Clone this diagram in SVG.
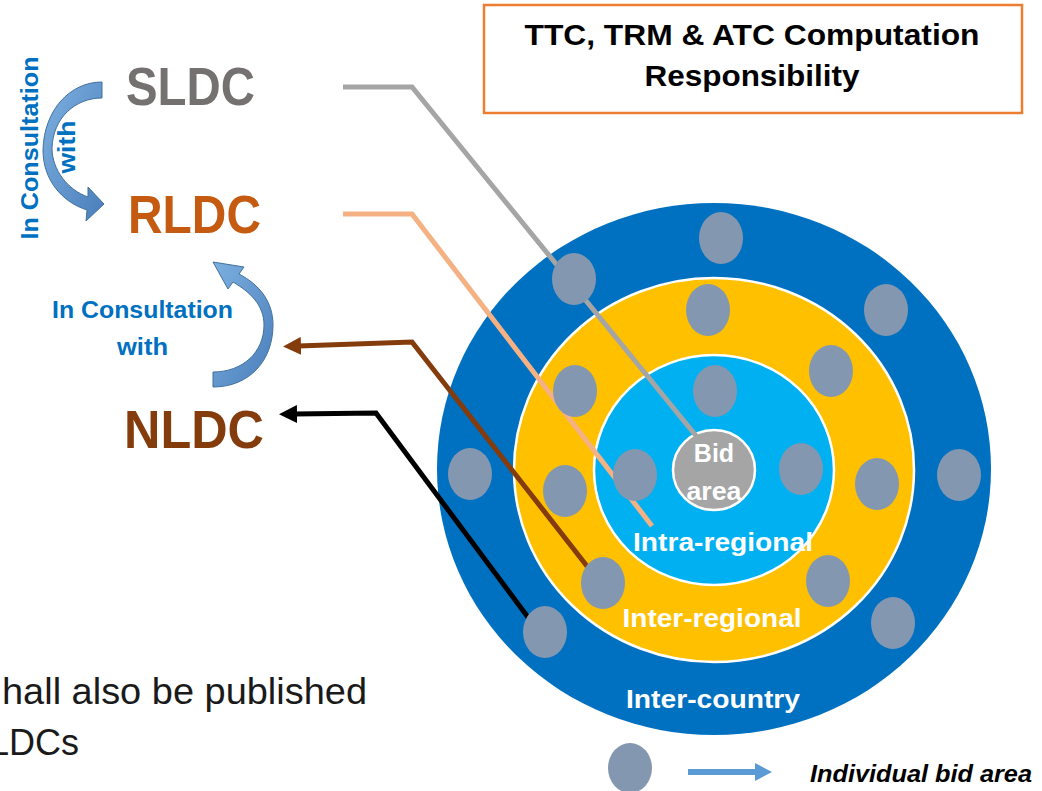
<svg xmlns="http://www.w3.org/2000/svg" width="1042" height="791" viewBox="0 0 1042 791">
<defs>
<style>
.lbl{font-family:"Liberation Sans",Arial,sans-serif;font-weight:bold}
.big{font-size:54px}
.ring{fill:#FFFFFF;font-size:25px}
.blue{fill:#0070C0;font-size:23px}
.bid{fill:#8497B0}
.conn{fill:none;stroke-width:5;stroke-linejoin:miter}
.curv{fill:url(#cg);stroke:#41719C;stroke-width:1}
</style>
<linearGradient id="cg" x1="0" y1="0" x2="1" y2="1">
<stop offset="0" stop-color="#7DB0E0"/>
<stop offset="1" stop-color="#4A7EBB"/>
</linearGradient>
<marker id="ahBrown" markerUnits="userSpaceOnUse" markerWidth="18" markerHeight="18" viewBox="0 0 18 18" refX="3" refY="9" orient="auto-start-reverse">
<path d="M0,0 L18,9 L0,18 z" fill="#843C0C"/>
</marker>
<marker id="ahBlack" markerUnits="userSpaceOnUse" markerWidth="18" markerHeight="18" viewBox="0 0 18 18" refX="3" refY="9" orient="auto-start-reverse">
<path d="M0,0 L18,9 L0,18 z" fill="#000000"/>
</marker>
</defs>
<rect width="1042" height="791" fill="#FFFFFF"/>

<g id="title">
<rect x="484" y="5" width="538" height="108" fill="#FFFFFF" stroke="#ED7D31" stroke-width="2.5"/>
<text class="lbl" x="752" y="45" font-size="29" text-anchor="middle" textLength="455" lengthAdjust="spacingAndGlyphs">TTC, TRM &amp; ATC Computation</text>
<text class="lbl" x="752" y="86" font-size="29" text-anchor="middle" textLength="215" lengthAdjust="spacingAndGlyphs">Responsibility</text>
</g>

<g id="rings">
<ellipse id="inter-country" cx="714" cy="469" rx="277" ry="266" fill="#0070C0"/>
<ellipse id="inter-regional" cx="714" cy="470" rx="200" ry="192" fill="#FFC000" stroke="#FFFFFF" stroke-width="2.5"/>
<ellipse id="intra-regional" cx="714" cy="470" rx="120" ry="115" fill="#00B0F0" stroke="#FFFFFF" stroke-width="2.5"/>
<ellipse id="bid-area" cx="714" cy="470" rx="41" ry="40" fill="#A5A5A5" stroke="#FFFFFF" stroke-width="2.5"/>
</g>

<g id="connectors">
<polyline class="conn" stroke="#A5A5A5" points="343,87 412,87 697,437"/>
<polyline class="conn" stroke="#F4B183" points="343,214 412,214 652,526"/>
<polyline class="conn" stroke="#843C0C" points="298,346 412,342 590,570" marker-start="url(#ahBrown)"/>
<polyline class="conn" stroke="#000000" points="294,414 376,413 530,620" marker-start="url(#ahBlack)"/>
<path class="curv" d="M102,82 C70,82 44,110 43,150 C43,180 62,202 87,210 L86,221 L104,204 L88,187 L88,197 C68,190 52,170 52,148 C53,118 75,98 102,98 Z"/>
<path class="curv" d="M213,387 C250,387 273,360 273,325 C273,302 260,285 239,274 L244,267 L213,262 L228,289 L233,282 C250,292 264,305 264,325 C264,352 243,372 213,372 Z"/>
<path d="M688,769 L755,769 L755,763 L772,772 L755,781 L755,775 L688,775 Z" fill="#5B9BD5"/>
</g>

<g id="bid-areas">
<ellipse class="bid" cx="721" cy="238" rx="22" ry="26"/>
<ellipse class="bid" cx="574" cy="279" rx="22" ry="26"/>
<ellipse class="bid" cx="886" cy="310" rx="22" ry="26"/>
<ellipse class="bid" cx="708" cy="310" rx="22" ry="26"/>
<ellipse class="bid" cx="831" cy="371" rx="22" ry="26"/>
<ellipse class="bid" cx="575" cy="391" rx="22" ry="26"/>
<ellipse class="bid" cx="715" cy="391" rx="22" ry="26"/>
<ellipse class="bid" cx="470" cy="474" rx="22" ry="26"/>
<ellipse class="bid" cx="565" cy="491" rx="22" ry="26"/>
<ellipse class="bid" cx="635" cy="475" rx="22" ry="26"/>
<ellipse class="bid" cx="801" cy="469" rx="22" ry="26"/>
<ellipse class="bid" cx="877" cy="484" rx="22" ry="26"/>
<ellipse class="bid" cx="959" cy="475" rx="22" ry="26"/>
<ellipse class="bid" cx="603" cy="583" rx="22" ry="26"/>
<ellipse class="bid" cx="828" cy="581" rx="22" ry="26"/>
<ellipse class="bid" cx="545" cy="632" rx="22" ry="26"/>
<ellipse class="bid" cx="893" cy="623" rx="22" ry="26"/>
</g>

<g id="ring-labels">
<text class="lbl ring" x="714" y="462" text-anchor="middle">Bid</text>
<text class="lbl ring" x="714" y="500" text-anchor="middle" textLength="55" lengthAdjust="spacingAndGlyphs">area</text>
<text class="lbl ring" x="723" y="551" text-anchor="middle" textLength="180" lengthAdjust="spacingAndGlyphs">Intra-regional</text>
<text class="lbl ring" x="712" y="627" text-anchor="middle" textLength="179" lengthAdjust="spacingAndGlyphs">Inter-regional</text>
<text class="lbl ring" x="713" y="708" text-anchor="middle" textLength="174" lengthAdjust="spacingAndGlyphs">Inter-country</text>
</g>

<g id="sldc"><text class="lbl big" x="126" y="105" fill="#767171" textLength="129" lengthAdjust="spacingAndGlyphs">SLDC</text></g>
<g id="rldc"><text class="lbl big" x="128" y="233" fill="#C55A11" textLength="133" lengthAdjust="spacingAndGlyphs">RLDC</text></g>
<g id="nldc"><text class="lbl big" x="124" y="448" fill="#843C0C" textLength="140" lengthAdjust="spacingAndGlyphs">NLDC</text></g>

<g id="consult-1">
<text class="lbl blue" transform="translate(38,148) rotate(-90)" x="0" y="0" text-anchor="middle" textLength="183" lengthAdjust="spacingAndGlyphs">In Consultation</text>
<text class="lbl blue" transform="translate(75,147) rotate(-90)" x="0" y="0" text-anchor="middle" textLength="53" lengthAdjust="spacingAndGlyphs">with</text>
</g>
<g id="consult-2">
<text class="lbl blue" x="142.5" y="318" text-anchor="middle" textLength="181" lengthAdjust="spacingAndGlyphs">In Consultation</text>
<text class="lbl blue" x="142.5" y="355" text-anchor="middle" textLength="51" lengthAdjust="spacingAndGlyphs">with</text>
</g>

<g id="legend">
<ellipse class="bid" cx="630" cy="768" rx="22" ry="25"/>
<text x="810" y="782" font-family="'Liberation Sans',Arial,sans-serif" font-weight="bold" font-style="italic" font-size="24" fill="#000000" textLength="222" lengthAdjust="spacingAndGlyphs">Individual bid area</text>
</g>

<g id="note">
<text x="2" y="704" font-family="'Liberation Sans',Arial,sans-serif" font-size="36" fill="#1A1A1A" textLength="365" lengthAdjust="spacingAndGlyphs">hall also be published</text>
<text x="-11" y="755" font-family="'Liberation Sans',Arial,sans-serif" font-size="36" fill="#1A1A1A">LDCs</text>
</g>
</svg>
